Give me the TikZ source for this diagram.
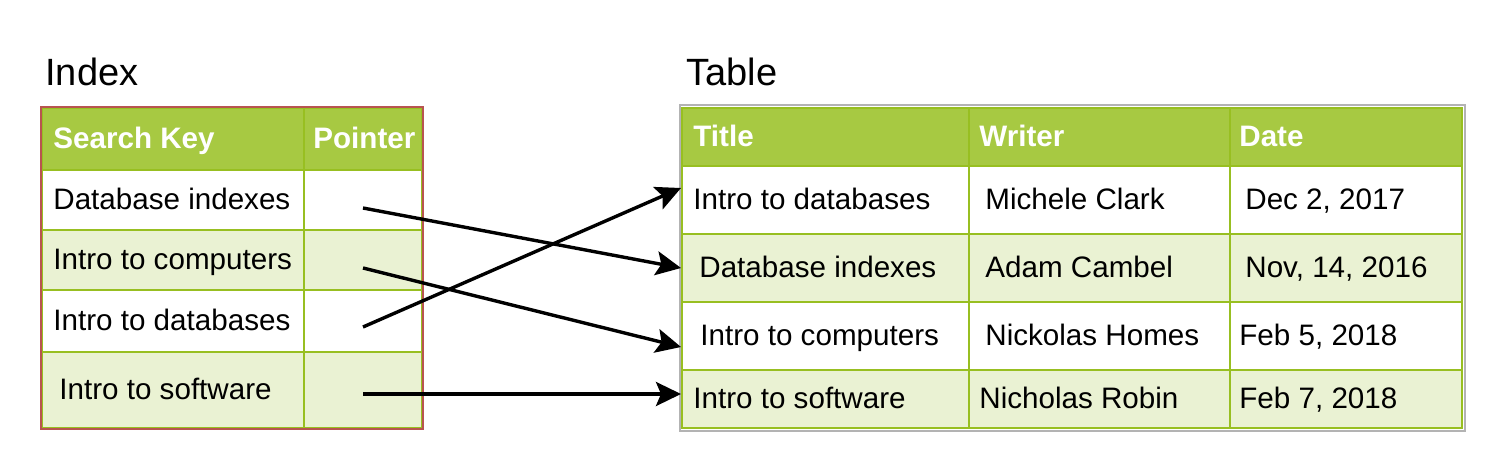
\documentclass[tikz,border=0pt]{standalone}
\usepackage{fontspec}
\setmainfont{Liberation Sans}
\usetikzlibrary{arrows.meta}
\definecolor{thead}{HTML}{A7C942}
\definecolor{tline}{HTML}{98BF21}
\definecolor{talt}{HTML}{EAF2D3}
\definecolor{idxred}{HTML}{B85450}
\definecolor{tblgray}{HTML}{B3B3B3}

\begin{document}
\begin{tikzpicture}[x=0.5pt, y=-0.5pt,
    cell/.style={draw=tline, line width=1pt, inner sep=0pt, anchor=north west},
    hdrrow/.style={cell, fill=thead},
    whiterow/.style={cell, fill=white},
    altrow/.style={cell, fill=talt},
    keycol/.style={minimum width=131pt},
    ptrcol/.style={minimum width=59pt},
    ttlcol/.style={minimum width=143.5pt},
    wrtcol/.style={minimum width=130.5pt},
    datcol/.style={minimum width=116pt},
    txt/.style={anchor=base west, inner sep=0pt, yshift=-4.8pt,
                font=\fontsize{14.8}{17}\selectfont},
    hdrtxt/.style={txt, text=white, font=\fontsize{14.8}{17}\selectfont\bfseries},
    heading/.style={anchor=base west, inner sep=0pt, font=\fontsize{19}{23}\selectfont},
    link/.style={-{Stealth[length=12.5pt, width=12pt, inset=2.5pt]}, line width=1.7pt}]
    \useasboundingbox (0,0) rectangle (1512,476);

    % index
    \node[heading] (idxname) at (45,86) {Index};
    \node[hdrrow, keycol, minimum height=31pt] (kh) at (41,107) {};
    \node[hdrrow, ptrcol, minimum height=31pt] (ph) at (303,107) {};
    \node[whiterow, keycol, minimum height=30pt] (k1) at (41,169) {};
    \node[whiterow, ptrcol, minimum height=30pt] (p1) at (303,169) {};
    \node[altrow, keycol, minimum height=30pt] (k2) at (41,229) {};
    \node[altrow, ptrcol, minimum height=30pt] (p2) at (303,229) {};
    \node[whiterow, keycol, minimum height=31pt] (k3) at (41,289) {};
    \node[whiterow, ptrcol, minimum height=31pt] (p3) at (303,289) {};
    \node[altrow, keycol, minimum height=38pt] (k4) at (41,351) {};
    \node[altrow, ptrcol, minimum height=38pt] (p4) at (303,351) {};
    \draw[idxred, line width=1pt] (kh.north west) rectangle (p4.south east);

    \node[hdrtxt, xshift=6pt] (khtxt) at (kh.west) {Search Key};
    \node[hdrtxt, xshift=5pt] (phtxt) at (ph.west) {Pointer};
    \node[txt, xshift=6pt] (k1txt) at (k1.west) {Database indexes};
    \node[txt, xshift=6pt] (k2txt) at (k2.west) {Intro to computers};
    \node[txt, xshift=6pt] (k3txt) at (k3.west) {Intro to databases};
    \node[txt, xshift=9pt] (k4txt) at (k4.west) {Intro to software};

    % table
    \node[heading] (tblname) at (686,86) {Table};
    \node[hdrrow, ttlcol, minimum height=29pt] (th) at (681,107) {};
    \node[hdrrow, wrtcol, minimum height=29pt] (wh) at (968,107) {};
    \node[hdrrow, datcol, minimum height=29pt] (dh) at (1229,107) {};
    \node[whiterow, ttlcol, minimum height=34pt] (t1) at (681,165) {};
    \node[whiterow, wrtcol, minimum height=34pt] (w1) at (968,165) {};
    \node[whiterow, datcol, minimum height=34pt] (d1) at (1229,165) {};
    \node[altrow, ttlcol, minimum height=34pt] (t2) at (681,233) {};
    \node[altrow, wrtcol, minimum height=34pt] (w2) at (968,233) {};
    \node[altrow, datcol, minimum height=34pt] (d2) at (1229,233) {};
    \node[whiterow, ttlcol, minimum height=34pt] (t3) at (681,301) {};
    \node[whiterow, wrtcol, minimum height=34pt] (w3) at (968,301) {};
    \node[whiterow, datcol, minimum height=34pt] (d3) at (1229,301) {};
    \node[altrow, ttlcol, minimum height=29pt] (t4) at (681,369) {};
    \node[altrow, wrtcol, minimum height=29pt] (w4) at (968,369) {};
    \node[altrow, datcol, minimum height=29pt] (d4) at (1229,369) {};
    \draw[tblgray, line width=1pt] ([shift={(-0.75pt,0.75pt)}]th.north west)
        rectangle ([shift={(0.75pt,-0.75pt)}]d4.south east);

    \node[hdrtxt, xshift=6pt] (thtxt) at (th.west) {Title};
    \node[hdrtxt, xshift=5.5pt] (whtxt) at (wh.west) {Writer};
    \node[hdrtxt, xshift=5pt] (dhtxt) at (dh.west) {Date};
    \node[txt, xshift=6pt] (t1txt) at (t1.west) {Intro to databases};
    \node[txt, xshift=8.5pt] (w1txt) at (w1.west) {Michele Clark};
    \node[txt, xshift=8pt] (d1txt) at (d1.west) {Dec 2, 2017};
    \node[txt, xshift=9pt] (t2txt) at (t2.west) {Database indexes};
    \node[txt, xshift=8.5pt] (w2txt) at (w2.west) {Adam Cambel};
    \node[txt, xshift=8pt] (d2txt) at (d2.west) {Nov, 14, 2016};
    \node[txt, xshift=9.5pt] (t3txt) at (t3.west) {Intro to computers};
    \node[txt, xshift=8.5pt] (w3txt) at (w3.west) {Nickolas Homes};
    \node[txt, xshift=5pt] (d3txt) at (d3.west) {Feb 5, 2018};
    \node[txt, xshift=6pt] (t4txt) at (t4.west) {Intro to software};
    \node[txt, xshift=5.5pt] (w4txt) at (w4.west) {Nicholas Robin};
    \node[txt, xshift=5pt] (d4txt) at (d4.west) {Feb 7, 2018};

    % pointers
    \draw[link] ([yshift=-4pt]p1.center) -- (t2.west);
    \draw[link] ([yshift=-4pt]p2.center) -- ([yshift=-5.5pt]t3.west);
    \draw[link] ([yshift=-3pt]p3.center) -- ([yshift=6pt]t1.west);
    \draw[link] ([yshift=-2pt]p4.center) -- ([yshift=2.5pt]t4.west);
\end{tikzpicture}
\end{document}
